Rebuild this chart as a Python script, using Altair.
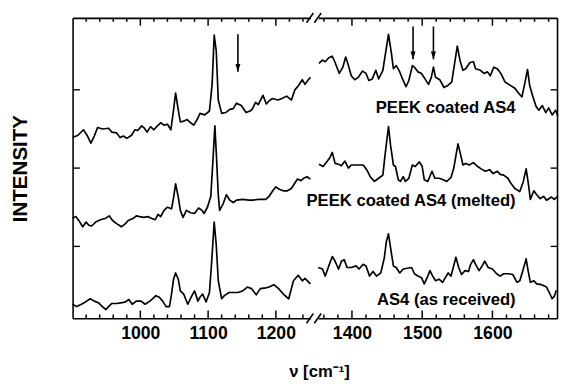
import altair as alt
import pandas as pd

FONT = "Liberation Sans"

# ---------------- data (wavenumber cm-1, intensity arb.) -------------
top_lo_wn = [900, 908, 916, 922, 927, 932, 937, 944, 953, 958, 965, 970, 975, 980, 987, 992, 996, 1002, 1006, 1010,
             1015, 1020, 1023, 1030, 1035, 1040, 1045, 1049, 1052, 1056, 1059, 1064, 1069, 1074, 1079, 1085, 1088, 1095,
             1102, 1106, 1109, 1112, 1115, 1120, 1126, 1132, 1137, 1142, 1149, 1156, 1162, 1165, 1170, 1174, 1181, 1186,
             1190, 1195, 1203, 1209, 1216, 1223, 1228, 1233, 1239, 1243, 1247, 1251]
top_lo_i = [2.31, 2.34, 2.41, 2.33, 2.24, 2.33, 2.44, 2.42, 2.43, 2.38, 2.37, 2.31, 2.33, 2.30, 2.34, 2.41, 2.40, 2.46,
            2.43, 2.38, 2.45, 2.41, 2.44, 2.50, 2.47, 2.48, 2.41, 2.66, 2.88, 2.66, 2.51, 2.52, 2.54, 2.50, 2.47, 2.56,
            2.62, 2.60, 2.65, 3.00, 3.62, 3.42, 2.79, 2.62, 2.63, 2.67, 2.68, 2.75, 2.72, 2.63, 2.65, 2.67, 2.76, 2.73,
            2.85, 2.74, 2.78, 2.81, 2.79, 2.81, 2.84, 2.79, 2.92, 2.97, 3.05, 2.99, 3.04, 3.08]

mid_lo_wn = [900, 905, 910, 915, 920, 924, 928, 934, 941, 949, 954, 959, 965, 972, 978, 982, 990, 994, 999, 1005,
             1011, 1016, 1022, 1026, 1030, 1035, 1040, 1046, 1049, 1052, 1056, 1059, 1063, 1068, 1074, 1080, 1086, 1091,
             1094, 1099, 1104, 1107, 1110, 1112, 1115, 1117, 1122, 1127, 1132, 1137, 1142, 1151, 1160, 1166, 1174, 1185,
             1190, 1197, 1200, 1205, 1211, 1217, 1223, 1228, 1232, 1237, 1241, 1246, 1251]
mid_lo_i = [1.28, 1.30, 1.24, 1.17, 1.23, 1.19, 1.18, 1.23, 1.26, 1.28, 1.31, 1.25, 1.21, 1.17, 1.21, 1.25, 1.28, 1.31,
            1.30, 1.29, 1.30, 1.28, 1.26, 1.33, 1.30, 1.38, 1.42, 1.40, 1.54, 1.72, 1.55, 1.38, 1.29, 1.38, 1.35, 1.34,
            1.41, 1.38, 1.34, 1.42, 1.56, 2.00, 2.46, 2.13, 1.58, 1.38, 1.46, 1.58, 1.51, 1.48, 1.51, 1.52, 1.51, 1.51,
            1.52, 1.52, 1.56, 1.65, 1.68, 1.65, 1.63, 1.63, 1.66, 1.73, 1.78, 1.76, 1.79, 1.81, 1.78]

bot_lo_wn = [900, 906, 913, 919, 926, 932, 938, 944, 949, 953, 958, 965, 973, 978, 983, 988, 994, 1001, 1007, 1014,
             1018, 1023, 1028, 1033, 1038, 1043, 1046, 1049, 1052, 1056, 1059, 1064, 1070, 1075, 1080, 1085, 1088, 1092,
             1097, 1102, 1105, 1109, 1112, 1115, 1120, 1124, 1131, 1137, 1144, 1151, 1158, 1164, 1171, 1177, 1185, 1190,
             1197, 1204, 1211, 1219, 1226, 1233, 1239, 1243, 1251]
bot_lo_i = [0.18, 0.15, 0.18, 0.21, 0.25, 0.22, 0.20, 0.15, 0.11, 0.15, 0.19, 0.19, 0.20, 0.21, 0.24, 0.18, 0.22, 0.22,
            0.18, 0.22, 0.25, 0.29, 0.27, 0.22, 0.15, 0.15, 0.31, 0.50, 0.58, 0.50, 0.35, 0.31, 0.18, 0.27, 0.35, 0.22,
            0.27, 0.31, 0.21, 0.33, 0.69, 1.23, 0.94, 0.48, 0.25, 0.29, 0.33, 0.33, 0.33, 0.35, 0.40, 0.38, 0.30, 0.38,
            0.39, 0.40, 0.43, 0.38, 0.31, 0.25, 0.48, 0.55, 0.48, 0.51, 0.44]

top_hi_wn = [1353, 1358, 1362, 1367, 1372, 1376, 1382, 1387, 1391, 1395, 1399, 1404, 1409, 1415, 1420, 1424, 1429, 1434,
             1438, 1444, 1448, 1452, 1456, 1459, 1463, 1467, 1472, 1477, 1481, 1486, 1489, 1494, 1499, 1504, 1509, 1513,
             1516, 1519, 1525, 1531, 1537, 1542, 1546, 1550, 1554, 1558, 1562, 1568, 1573, 1576, 1583, 1588, 1593, 1597,
             1602, 1607, 1612, 1618, 1625, 1632, 1637, 1642, 1646, 1650, 1653, 1657, 1662, 1666, 1671, 1676, 1680, 1685,
             1690, 1693]
top_hi_i = [3.26, 3.30, 3.28, 3.33, 3.35, 3.27, 3.13, 3.21, 3.34, 3.23, 3.10, 3.05, 3.08, 3.16, 3.13, 3.04, 3.06, 3.17,
            3.06, 3.17, 3.40, 3.63, 3.40, 3.19, 3.23, 3.17, 3.06, 2.96, 3.04, 3.23, 3.21, 3.15, 3.13, 3.06, 2.99, 3.08,
            3.21, 3.08, 3.05, 2.95, 2.98, 3.02, 3.25, 3.48, 3.29, 3.17, 3.19, 3.27, 3.28, 3.19, 3.17, 3.13, 3.15, 3.10,
            3.21, 3.19, 3.13, 3.02, 2.98, 2.94, 2.88, 2.83, 3.00, 3.18, 2.98, 2.85, 2.71, 2.66, 2.72, 2.63, 2.69, 2.60,
            2.66, 2.59]

mid_hi_wn = [1353, 1359, 1365, 1369, 1372, 1376, 1381, 1385, 1390, 1395, 1399, 1406, 1416, 1421, 1426, 1432, 1438, 1444,
             1447, 1452, 1455, 1459, 1462, 1466, 1469, 1473, 1476, 1481, 1486, 1490, 1496, 1500, 1503, 1508, 1514, 1518,
             1524, 1530, 1535, 1541, 1545, 1549, 1551, 1555, 1558, 1562, 1567, 1573, 1579, 1584, 1590, 1596, 1601, 1607,
             1611, 1616, 1622, 1626, 1632, 1639, 1644, 1648, 1651, 1654, 1659, 1663, 1668, 1673, 1677, 1684, 1688, 1693]
mid_hi_i = [1.97, 1.94, 2.01, 2.06, 2.12, 1.98, 1.97, 1.95, 2.01, 1.92, 1.96, 1.96, 1.96, 1.90, 1.81, 1.75, 1.79, 1.83,
            2.08, 2.45, 2.21, 1.96, 1.94, 1.77, 1.75, 1.81, 1.75, 1.79, 1.96, 1.94, 2.00, 1.94, 1.77, 1.75, 1.88, 1.79,
            1.79, 1.77, 1.75, 1.80, 1.92, 2.13, 2.23, 2.08, 1.96, 1.98, 1.96, 1.99, 1.94, 1.91, 1.88, 1.90, 1.85, 1.88,
            1.84, 1.83, 1.79, 1.73, 1.66, 1.62, 1.75, 1.91, 1.73, 1.52, 1.63, 1.58, 1.53, 1.56, 1.51, 1.55, 1.52, 1.56]

bot_hi_wn = [1352, 1358, 1362, 1367, 1372, 1376, 1381, 1385, 1389, 1393, 1399, 1406, 1410, 1416, 1420, 1425, 1430, 1435,
             1441, 1446, 1449, 1452, 1455, 1459, 1463, 1468, 1473, 1479, 1485, 1489, 1494, 1499, 1503, 1508, 1511, 1515,
             1519, 1524, 1529, 1533, 1537, 1541, 1544, 1548, 1552, 1556, 1561, 1566, 1569, 1573, 1576, 1581, 1586, 1589,
             1594, 1600, 1606, 1611, 1616, 1623, 1629, 1635, 1639, 1644, 1648, 1651, 1654, 1659, 1663, 1670, 1677, 1681,
             1685, 1688, 1691]
bot_hi_i = [0.65, 0.63, 0.54, 0.67, 0.79, 0.73, 0.63, 0.73, 0.75, 0.65, 0.65, 0.67, 0.63, 0.69, 0.67, 0.54, 0.60, 0.54,
            0.58, 0.77, 0.98, 1.08, 0.90, 0.67, 0.65, 0.58, 0.63, 0.64, 0.65, 0.57, 0.54, 0.52, 0.44, 0.54, 0.61, 0.54,
            0.48, 0.50, 0.46, 0.52, 0.58, 0.54, 0.64, 0.78, 0.65, 0.56, 0.61, 0.60, 0.69, 0.75, 0.69, 0.61, 0.68, 0.73,
            0.65, 0.63, 0.57, 0.54, 0.57, 0.57, 0.56, 0.46, 0.48, 0.63, 0.76, 0.60, 0.46, 0.48, 0.44, 0.43, 0.40, 0.33,
            0.25, 0.28, 0.36]

series_labels = ["PEEK coated AS4", "PEEK coated AS4 (melted)", "AS4 (as received)"]
label_wn = [1633, 1633, 1633]
label_i = [2.63, 1.43, 0.17]

arrow_wn = [1144, 1487, 1516]
arrow_top = [3.63, 3.73, 3.73]
arrow_tip = [3.15, 3.31, 3.31]

lo_domain = [900, 1251]
hi_domain = [1352, 1692]
y_domain = [0, 3.84]
y_ticks = [0.925, 1.925, 2.925]
lo_labels = [1000, 1100, 1200]
hi_labels = [1400, 1500, 1600]
lo_major = [1000, 1100, 1200]
lo_minor = [v for v in range(920, 1252, 20) if v % 100]
hi_major = [1400, 1500, 1600]
hi_minor = [v for v in range(1360, 1692, 20) if v % 100]

# ---------------- build tables ----------------
def lines_table(parts):
    return pd.concat([pd.DataFrame({"series": n, "wn": w, "i": v}) for n, w, v in parts], ignore_index=True)

lo_df = lines_table([("top", top_lo_wn, top_lo_i), ("mid", mid_lo_wn, mid_lo_i), ("bot", bot_lo_wn, bot_lo_i)])
hi_df = lines_table([("top", top_hi_wn, top_hi_i), ("mid", mid_hi_wn, mid_hi_i), ("bot", bot_hi_wn, bot_hi_i)])
arrows_df = pd.DataFrame({"wn": arrow_wn, "top": arrow_top, "tip": arrow_tip})
labels_df = pd.DataFrame({"label": series_labels, "wn": label_wn, "i": label_i})

H = 307
W_LO = 243
W_HI = 244
GAP = 8
MAJOR = 8
MINOR = 4
ARROW_HEAD = "M-0.32,-1L0.32,-1L0,0Z"


def frame_axis(values, orient, offset, ticks):
    return alt.Axis(values=values, orient=orient, offset=offset, labels=False, grid=False,
                    ticks=ticks, tickSize=7, tickColor="black", tickWidth=1.4,
                    domain=True, domainColor="black", domainWidth=1.6, title=None)


def panel(df, dom, width, label_vals, major_vals, minor_vals, side):
    xs = alt.Scale(domain=dom, nice=False, zero=False)
    ys = alt.Scale(domain=y_domain, nice=False, zero=False)
    corners = pd.DataFrame({"wn": dom, "i": y_domain})
    label_axis = alt.Axis(values=label_vals, orient="bottom", ticks=False, domain=False, grid=False, format="d",
                          labelFont=FONT, labelFontSize=18, labelFontWeight="bold", labelColor="black",
                          labelPadding=7, title=None)
    if side == "left":
        y_tick = frame_axis(y_ticks, "right", -width, True)
        y_title = alt.Axis(orient="left", labels=False, ticks=False, domain=False, grid=False,
                           title="INTENSITY", titleFont=FONT, titleFontSize=21, titleFontWeight="bold",
                           titleColor="black", titlePadding=43)
    else:
        y_tick = frame_axis(y_ticks, "left", -width, True)
        y_title = None

    def ghost(xaxis, yaxis):
        return alt.Chart(corners).mark_point(opacity=0, size=1).encode(
            x=alt.X("wn:Q", scale=xs, axis=xaxis),
            y=alt.Y("i:Q", scale=ys, axis=yaxis))

    def tick_rules(vals, y0, y1):
        return alt.Chart(pd.DataFrame({"wn": vals})).mark_rule(color="black", strokeWidth=1.5).encode(
            x=alt.X("wn:Q", scale=xs, axis=None), y=alt.value(y0), y2=alt.value(y1))

    lo, hi = dom
    arr = arrows_df[(arrows_df.wn > lo) & (arrows_df.wn < hi)]
    layers = [
        alt.Chart(df).mark_line(color="black", strokeWidth=1.7, strokeJoin="round").encode(
            x=alt.X("wn:Q", scale=xs, axis=label_axis),
            y=alt.Y("i:Q", scale=ys, axis=y_title),
            detail="series:N"),
        ghost(frame_axis(major_vals, "top", -H, False), y_tick),
        ghost(frame_axis(major_vals, "bottom", -H, False), None),
        tick_rules(major_vals, H, H - MAJOR),
        tick_rules(minor_vals, H, H - MINOR),
        tick_rules(major_vals, 0, MAJOR),
        tick_rules(minor_vals, 0, MINOR),
        alt.Chart(arr).mark_rule(color="black", strokeWidth=1.6).encode(
            x=alt.X("wn:Q", scale=xs, axis=None),
            y=alt.Y("top:Q", scale=ys, axis=None),
            y2="tip:Q"),
        alt.Chart(arr).mark_point(shape=ARROW_HEAD, filled=True, size=256, color="black", opacity=1).encode(
            x=alt.X("wn:Q", scale=xs, axis=None),
            y=alt.Y("tip:Q", scale=ys, axis=None)),
    ]
    if side == "right":
        layers.append(
            alt.Chart(labels_df).mark_text(align="right", baseline="alphabetic", font=FONT, fontSize=17,
                                           fontWeight="bold", color="black").encode(
                x=alt.X("wn:Q", scale=xs, axis=None),
                y=alt.Y("i:Q", scale=ys, axis=None),
                text="label:N"))
        one = pd.DataFrame({"k": [0]})
        for yb in (0, H):
            for x0 in (-12, -4):
                layers.append(
                    alt.Chart(one).mark_rule(color="black", strokeWidth=1.6).encode(
                        x=alt.value(x0), x2=alt.value(x0 + 7),
                        y=alt.value(yb + 5), y2=alt.value(yb - 5)))
    return alt.layer(*layers).resolve_axis(x="independent", y="independent").properties(width=width, height=H)


left = panel(lo_df, lo_domain, W_LO, lo_labels, lo_major, lo_minor, "left")
right = panel(hi_df, hi_domain, W_HI, hi_labels, hi_major, hi_minor, "right")

chart = alt.hconcat(left, right, spacing=GAP, bounds="flush").properties(
    padding={"left": 2, "top": 0, "right": 0, "bottom": 0},
    title=alt.TitleParams(text="ν  [cm⁻¹]", orient="bottom", anchor="middle", font=FONT, fontSize=17,
                          fontWeight="bold", color="black", offset=22, dx=36),
).configure_view(stroke=None).configure_axis(grid=False)

chart.save("out.html", embed_options={"renderer": "svg", "actions": False})
